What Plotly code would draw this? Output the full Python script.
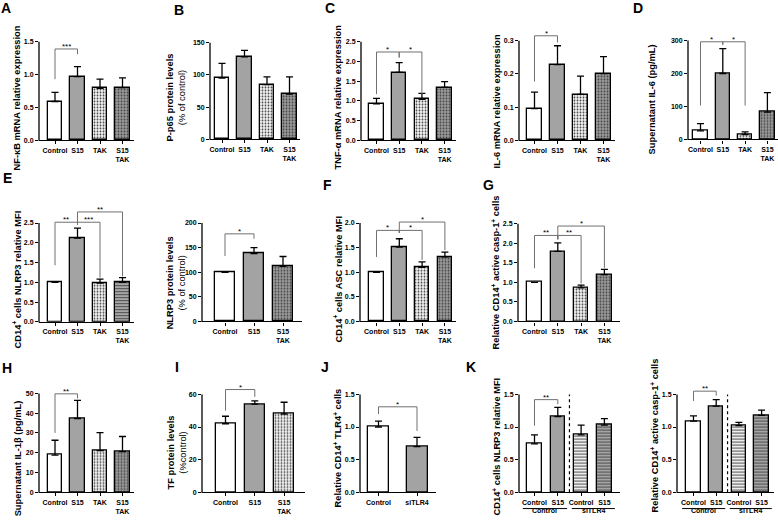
import plotly.graph_objects as go

W, H = 778, 524
FONT = "Liberation Sans, Arial"

# group labels
grp4 = ["Control", "S15", "TAK", "S15<br>TAK"]
grp3 = ["Control", "S15", "S15<br>TAK"]
grp_j = ["Control", "siTLR4"]
grp_k = ["Control", "S15", "Control", "S15"]

# means / SD (error bars drawn upward only)
nfkb_mean = [0.59, 0.97, 0.79, 0.80]
nfkb_sd = [0.14, 0.15, 0.14, 0.15]
p65_mean = [95, 128, 85, 70]
p65_sd = [23, 10, 12, 27]
tnf_mean = [0.92, 1.72, 1.04, 1.34]
tnf_sd = [0.14, 0.25, 0.15, 0.15]
il6_mean = [0.095, 0.228, 0.138, 0.201]
il6_sd = [0.050, 0.057, 0.055, 0.051]
il6_sup_mean = [26, 200, 15, 83]
il6_sup_sd = [22, 75, 8, 59]
nlrp3_mfi_mean = [1.0, 2.12, 0.98, 1.0]
nlrp3_mfi_sd = [0, 0.25, 0.10, 0.12]
nlrp3_prot_mean = [100, 138, 112]
nlrp3_prot_sd = [0, 12, 20]
asc_mean = [1.0, 1.51, 1.10, 1.31]
asc_sd = [0, 0.17, 0.11, 0.10]
casp_mean = [1.0, 1.79, 0.86, 1.20]
casp_sd = [0, 0.22, 0.07, 0.13]
il1b_mean = [18.8, 37.3, 21.0, 20.5]
il1b_sd = [7.5, 9.2, 9.2, 7.7]
tf_mean = [42, 54, 48]
tf_sd = [4.6, 2.1, 7.2]
tlr4_mean = [1.0, 0.70]
tlr4_sd = [0.09, 0.14]
k_nlrp3_mean = [0.74, 1.16, 0.88, 1.03]
k_nlrp3_sd = [0.14, 0.14, 0.15, 0.10]
k_casp_mean = [1.09, 1.32, 1.02, 1.18]
k_casp_sd = [0.08, 0.10, 0.05, 0.08]

# significance brackets: (bar i, bar j, bracket level, leg end at i, leg end at j, label)
nfkb_sig = [(0, 1, 1.39, 0.93, 1.31, "***")]
tnf_sig = [(0, 1, 2.24, 1.17, 2.10, "*"), (1, 2, 2.24, 2.10, 1.17, "*")]
il6_sig = [(0, 1, 0.315, 0.177, 0.295, "*")]
il6_sup_sig = [(0, 1, 296, 103, 287, "*"), (1, 2, 296, 287, 103, "*")]
nlrp3_mfi_sig = [(0, 1, 2.52, 1.43, 2.45, "**"), (1, 2, 2.52, 2.45, 1.12, "***"),
                 (1, 3, 2.78, 2.45, 1.15, "**")]
nlrp3_prot_sig = [(0, 1, 178, 133, 168, "*")]
asc_sig = [(0, 1, 1.85, 1.31, 1.80, "*"), (1, 2, 1.85, 1.80, 1.25, "*"),
           (1, 3, 2.02, 1.80, 1.45, "*")]
casp_sig = [(0, 1, 2.20, 1.36, 2.10, "**"), (1, 2, 2.20, 2.10, 0.97, "**"),
            (1, 3, 2.44, 2.10, 1.37, "*")]
il1b_sig = [(0, 1, 49.8, 30, 47.5, "**")]
tf_sig = [(0, 1, 63, 50, 58.5, "*")]
tlr4_sig = [(0, 1, 1.31, 1.20, 0.94, "*")]
k_nlrp3_sig = [(0, 1, 1.42, 1.02, 1.35, "**")]
k_casp_sig = [(0, 1, 1.55, 1.40, 1.48, "**")]

# bar fills: (bar colour, pattern colour, pattern shape)
FILLS = {
    "ctrl": ("white", "white", ""),
    "s15": ("#a3a3a3", "#a3a3a3", ""),
    "tak": ("#f4f4f4", "#a0a0a0", "."),
    "s15tak": ("#9a9a9a", "#4a4a4a", "."),
    "s15tak_h": ("#a6a6a6", "#505050", "-"),
    "si_ctrl": ("#eeeeee", "#a0a0a0", "-"),
    "si_s15": ("#a4a4a4", "#6a6a6a", "-"),
}
f4 = ["ctrl", "s15", "tak", "s15tak"]

panels = [
    dict(letter="A", lxy=(6, 8), title="<b>NF-κB mRNA relative expression</b>", txy=(17, 91),
         cats=grp4, mean=nfkb_mean, sd=nfkb_sd, fills=f4, sig=nfkb_sig,
         x0=39, x1=134, c0=55, sp=22.5, bw=14.5, yb=141, yt=42, top=1.5, dt=0.5, fmt=".1f"),
    dict(letter="B", lxy=(179, 10), title="<b>P-p65 protein levels</b><br>(% of control)", txy=(176, 90),
         cats=grp4, mean=p65_mean, sd=p65_sd, fills=f4, sig=[],
         x0=210, x1=300, c0=222, sp=22.5, bw=14.5, yb=140, yt=43, top=150, dt=50, fmt="d"),
    dict(letter="C", lxy=(330, 8), title="<b>TNF-α mRNA relative expression</b>", txy=(338, 90),
         cats=grp4, mean=tnf_mean, sd=tnf_sd, fills=f4, sig=tnf_sig,
         x0=361, x1=456, c0=376.5, sp=22.7, bw=14.5, yb=141, yt=42, top=2.5, dt=0.5, fmt=".1f"),
    dict(letter=None, title="<b>IL-6 mRNA relative expression</b>", txy=(497, 94),
         cats=grp4, mean=il6_mean, sd=il6_sd, fills=f4, sig=il6_sig,
         x0=519, x1=615, c0=534.5, sp=23, bw=14.5, yb=141, yt=41, top=0.3, dt=0.1, fmt=".1f"),
    dict(letter="D", lxy=(638, 8), title="<b>Supernatant IL-6 (pg/mL)</b>", txy=(652, 92),
         cats=grp4, mean=il6_sup_mean, sd=il6_sup_sd, fills=f4, sig=il6_sup_sig,
         x0=688, x1=778, c0=700.5, sp=22.3, bw=14.5, yb=140.3, yt=40.7, top=300, dt=100, fmt="d"),
    dict(letter="E", lxy=(7, 179), title="<b>CD14<sup>+</sup> cells NLRP3 relative MFI</b>", txy=(17, 273),
         cats=grp4, mean=nlrp3_mfi_mean, sd=nlrp3_mfi_sd, fills=["ctrl", "s15", "tak", "s15tak_h"],
         sig=nlrp3_mfi_sig,
         x0=39, x1=134, c0=55, sp=22.5, bw=14.5, yb=323.7, yt=224.3, top=2.5, dt=0.5, fmt=".1f"),
    dict(letter=None, title="<b>NLRP3 protein levels</b><br>(% of control)", txy=(176, 277),
         cats=grp3, mean=nlrp3_prot_mean, sd=nlrp3_prot_sd, fills=["ctrl", "s15", "s15tak"],
         sig=nlrp3_prot_sig,
         x0=202, x1=302, c0=225, sp=29, bw=20, yb=323.3, yt=224.3, top=200, dt=50, fmt="d"),
    dict(letter="F", lxy=(327, 186), title="<b>CD14<sup>+</sup> cells ASC relative MFI</b>", txy=(338, 273),
         cats=grp4, mean=asc_mean, sd=asc_sd, fills=f4, sig=asc_sig,
         x0=360, x1=456, c0=376.5, sp=22.8, bw=14.5, yb=323.3, yt=224.3, top=2.0, dt=0.5, fmt=".1f"),
    dict(letter="G", lxy=(488, 186), title="<b>Relative CD14<sup>+</sup> active casp-1<sup>+</sup> cells</b>",
         txy=(496, 266),
         cats=grp4, mean=casp_mean, sd=casp_sd, fills=f4, sig=casp_sig,
         x0=518, x1=620, c0=534.5, sp=23.3, bw=14.5, yb=323.3, yt=225, top=2.5, dt=0.5, fmt=".1f"),
    dict(letter="H", lxy=(7, 370), title="<b>Supernatant IL-1β (pg/mL)</b>", txy=(18, 453),
         cats=grp4, mean=il1b_mean, sd=il1b_sd, fills=f4, sig=il1b_sig,
         x0=39, x1=134, c0=55, sp=22.5, bw=14.5, yb=495, yt=395.7, top=50, dt=10, fmt="d"),
    dict(letter="I", lxy=(177, 369), title="<b>TF protein levels</b><br>(%control)", txy=(177, 447),
         cats=grp3, mean=tf_mean, sd=tf_sd, fills=["ctrl", "s15", "tak"], sig=tf_sig,
         x0=202, x1=305, c0=225.5, sp=29.3, bw=20, yb=495, yt=396.7, top=60, dt=20, fmt="d"),
    dict(letter="J", lxy=(325, 369), title="<b>Relative CD14<sup>+</sup> TLR4<sup>+</sup> cells</b>",
         txy=(338, 443),
         cats=grp_j, mean=tlr4_mean, sd=tlr4_sd, fills=["ctrl", "s15"], sig=tlr4_sig,
         x0=360, x1=436, c0=378.5, sp=38.5, bw=21, yb=495, yt=396.7, top=1.5, dt=0.5, fmt=".1f"),
    dict(letter="K", lxy=(471, 369), title="<b>CD14<sup>+</sup> cells NLRP3 relative MFI</b>", txy=(497, 441),
         cats=grp_k, mean=k_nlrp3_mean, sd=k_nlrp3_sd, fills=["ctrl", "s15", "si_ctrl", "si_s15"],
         sig=k_nlrp3_sig, groups=True,
         x0=519, x1=620, c0=534.5, sp=23.3, bw=14.5, yb=495, yt=396.7, top=1.5, dt=0.5, fmt=".1f"),
    dict(letter=None, title="<b>Relative CD14<sup>+</sup> active casp-1<sup>+</sup> cells</b>", txy=(655, 430),
         cats=grp_k, mean=k_casp_mean, sd=k_casp_sd, fills=["ctrl", "s15", "si_ctrl", "si_s15"],
         sig=k_casp_sig, groups=True,
         x0=677, x1=774, c0=693.5, sp=22.7, bw=14.5, yb=495, yt=396.7, top=1.5, dt=0.5, fmt=".1f"),
]

# rotated annotations sit a little high in plotly; nudge the titles down
TITLE_NUDGE = 8

fig = go.Figure()
shapes = []
annotations = []
BRACKET = "#707070"


def px(x):
    return x / W


def py(y):
    return 1 - y / H


for k, p in enumerate(panels, start=1):
    xa = "x" if k == 1 else f"x{k}"
    ya = "y" if k == 1 else f"y{k}"
    n = len(p["cats"])
    bg = [FILLS[f][0] for f in p["fills"]]
    fg = [FILLS[f][1] for f in p["fills"]]
    shp = [FILLS[f][2] for f in p["fills"]]

    fig.add_trace(go.Bar(
        x=list(range(n)), y=p["mean"], xaxis=xa, yaxis=ya,
        width=p["bw"] / p["sp"],
        marker=dict(color=bg, line=dict(color="black", width=1.3),
                    pattern=dict(shape=shp, fgcolor=fg, fgopacity=1, size=3, solidity=0.3,
                                 fillmode="overlay")),
        error_y=dict(type="data", symmetric=False, array=p["sd"], arrayminus=[0] * n,
                     color="black", thickness=1.3, width=3.5),
        showlegend=False, hoverinfo="skip",
    ))

    for (i, j, lvl, ei, ej, lab) in p["sig"]:
        fig.add_trace(go.Scatter(
            x=[i, i, j, j], y=[ei, lvl, lvl, ej], xaxis=xa, yaxis=ya, mode="lines",
            line=dict(color=BRACKET, width=1), showlegend=False, hoverinfo="skip",
        ))
        annotations.append(dict(
            x=(i + j) / 2, y=lvl, xref=xa, yref=ya, text=lab, showarrow=False,
            yanchor="bottom", yshift=-4, font=dict(family=FONT, size=8, color="black"),
        ))

    top_px = p["yt"] - 26
    ymax = p["top"] * (p["yb"] - top_px) / (p["yb"] - p["yt"])
    nt = int(round(p["top"] / p["dt"]))
    tv = [p["dt"] * t for t in range(nt + 1)]

    xname = "xaxis" if k == 1 else f"xaxis{k}"
    yname = "yaxis" if k == 1 else f"yaxis{k}"
    fig.update_layout(**{
        xname: dict(
            domain=[px(p["x0"]), px(p["x1"])], anchor=ya,
            range=[(p["x0"] - p["c0"]) / p["sp"], (p["x1"] - p["c0"]) / p["sp"]],
            tickvals=list(range(n)), ticktext=p["cats"],
            showline=True, linecolor="black", linewidth=1.3, ticks="outside", ticklen=3,
            tickwidth=1, tickcolor="black", showgrid=False, zeroline=False,
            tickfont=dict(family=FONT, size=7, color="black", weight="bold"),
            fixedrange=True,
        ),
        yname: dict(
            domain=[py(p["yb"]), py(top_px)], anchor=xa, range=[0, ymax],
            tickvals=tv, tickformat=p["fmt"], showline=False, ticks="outside",
            ticklen=3, tickwidth=1, tickcolor="black", showgrid=False, zeroline=False,
            tickfont=dict(family=FONT, size=7, color="black", weight="bold"),
            fixedrange=True,
        ),
    })
    # y axis spine only up to the top tick
    shapes.append(dict(type="line", xref="paper", yref="paper",
                       x0=px(p["x0"]), x1=px(p["x0"]), y0=py(p["yb"] + 0.6), y1=py(p["yt"]),
                       line=dict(color="black", width=1.3)))

    if p.get("groups"):
        shapes.append(dict(type="line", xref=xa, yref=ya, x0=1.5, x1=1.5, y0=0, y1=p["top"],
                           line=dict(color="black", width=1.2, dash="dot")))
        for (g0, g1, name) in [(-0.5, 1.4, "Control"), (1.6, 3.45, "siTLR4")]:
            shapes.append(dict(type="line", xref=xa, yref="paper", x0=g0, x1=g1,
                               y0=py(511.5), y1=py(511.5), line=dict(color="black", width=1)))
            annotations.append(dict(x=(g0 + g1) / 2, y=py(518.5), xref=xa, yref="paper",
                                    text="<b>" + name + "</b>", showarrow=False,
                                    font=dict(family=FONT, size=7, color="black")))

    annotations.append(dict(
        x=px(p["txy"][0]), y=py(p["txy"][1] + TITLE_NUDGE), xref="paper", yref="paper",
        text=p["title"], textangle=-90, showarrow=False, xanchor="center", yanchor="middle",
        font=dict(family=FONT, size=9.3, color="black"),
    ))
    if p["letter"]:
        annotations.append(dict(
            x=px(p["lxy"][0]), y=py(p["lxy"][1]), xref="paper", yref="paper",
            text="<b>" + p["letter"] + "</b>", showarrow=False, xanchor="center", yanchor="middle",
            font=dict(family=FONT, size=14, color="black"),
        ))

fig.update_layout(
    width=W, height=H, margin=dict(l=0, r=0, t=0, b=0),
    paper_bgcolor="white", plot_bgcolor="white",
    shapes=shapes, annotations=annotations, bargap=0,
    font=dict(family=FONT, color="black"),
)

fig.write_html("out.html", config={"displayModeBar": False},
               post_script="document.body.style.margin='0';")
